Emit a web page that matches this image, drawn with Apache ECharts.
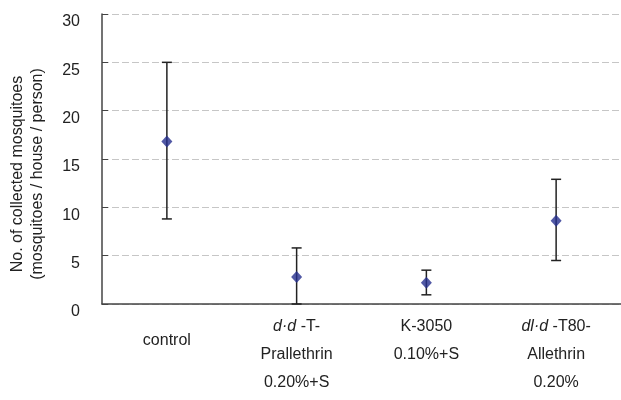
<!DOCTYPE html>
<html style="height: 100%">
   <head>
       <meta charset="utf-8">
   </head>
   <body style="height: 100%; margin: 0; background: #fff">
       <div id="container" style="height: 100%"></div>
       <script type="text/javascript" src="https://cdn.jsdelivr.net/npm/echarts@6/dist/echarts.min.js"></script>
       <script type="text/javascript">
var categories = ['control', 'dd-T-Prallethrin', 'K-3050', 'dld-T80-Allethrin'];
var means = [16.8, 2.8, 2.2, 8.6];
var upper = [25, 5.8, 3.5, 12.9];
var lower = [8.8, 0, 0.95, 4.5];
var yTicks = [0, 5, 10, 15, 20, 25, 30];

// x labels, some parts in italic
var labelText = {
    'control': '{c|control}',
    'dd-T-Prallethrin': '{i|d·d}{n| -T-}\n{n|Prallethrin}\n{n|0.20%+S}',
    'K-3050': '{n|K-3050}\n{n|0.10%+S}',
    'dld-T80-Allethrin': '{i|dl·d}{n| -T80-}\n{n|Allethrin}\n{n|0.20%}'
};

var dom = document.getElementById("container");
var myChart = echarts.init(dom);

var errData = categories.map(function (c, i) {
    return [i, lower[i], upper[i]];
});

var option = {
    animation: false,
    grid: {
        left: 102,
        right: 0,
        top: 14,
        bottom: 96
    },
    xAxis: {
        type: 'category',
        data: categories,
        boundaryGap: true,
        axisLine: { lineStyle: { color: '#444', width: 1.5 } },
        axisTick: { inside: true, length: 5, lineStyle: { color: '#444' } },
        axisLabel: {
            margin: 9,
            interval: 0,
            formatter: function (v) { return labelText[v]; },
            rich: {
                n: { fontFamily: 'Liberation Sans', fontSize: 16, color: '#222', lineHeight: 28 },
                i: { fontFamily: 'Liberation Sans', fontSize: 16, color: '#222', lineHeight: 28, fontStyle: 'italic' },
                c: { fontFamily: 'Liberation Sans', fontSize: 16, color: '#222', lineHeight: 56 }
            }
        }
    },
    yAxis: {
        type: 'value',
        min: yTicks[0],
        max: yTicks[yTicks.length - 1],
        interval: 5,
        name: 'No. of collected mosquitoes\n(mosquitoes / house / person)',
        nameLocation: 'middle',
        nameRotate: 90,
        nameGap: 54,
        nameTextStyle: {
            fontFamily: 'Liberation Sans',
            fontSize: 16,
            color: '#222',
            lineHeight: 20,
            padding: [0, 30, 0, 0]
        },
        axisLine: { show: true, lineStyle: { color: '#444', width: 1.5 } },
        axisTick: { show: true, inside: true, length: 6, lineStyle: { color: '#444' } },
        axisLabel: {
            margin: 22,
            verticalAlign: 'top',
            fontFamily: 'Liberation Sans',
            fontSize: 16,
            color: '#222'
        },
        splitLine: { lineStyle: { type: [7, 3], color: '#c6c6c6', width: 1 } }
    },
    series: [
        {
            type: 'custom',
            data: errData,
            z: 2,
            renderItem: function (params, api) {
                var x = api.value(0);
                var lo = api.coord([x, api.value(1)]);
                var hi = api.coord([x, api.value(2)]);
                var hw = 5;
                var st = { stroke: '#222', lineWidth: 1.5 };
                return {
                    type: 'group',
                    children: [
                        { type: 'line', shape: { x1: lo[0], y1: lo[1], x2: hi[0], y2: hi[1] }, style: st },
                        { type: 'line', shape: { x1: lo[0] - hw, y1: lo[1], x2: lo[0] + hw, y2: lo[1] }, style: st },
                        { type: 'line', shape: { x1: hi[0] - hw, y1: hi[1], x2: hi[0] + hw, y2: hi[1] }, style: st }
                    ]
                };
            }
        },
        {
            type: 'scatter',
            data: means,
            symbol: 'diamond',
            symbolSize: [11, 12],
            z: 3,
            itemStyle: { color: '#262f8f' }
        }
    ]
};

myChart.setOption(option);
       </script>
   </body>
</html>
